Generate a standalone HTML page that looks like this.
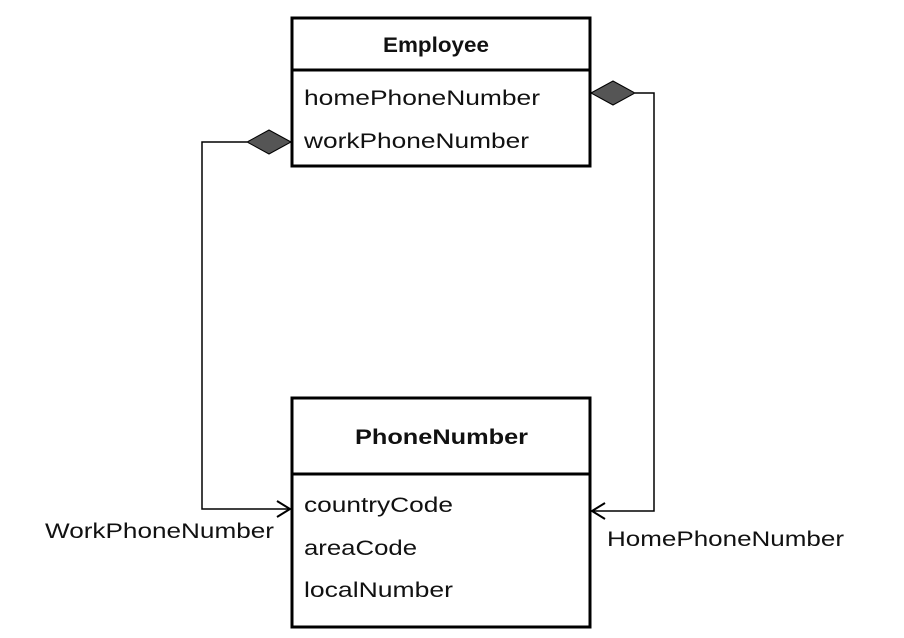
<!DOCTYPE html>
<html><head><style>
html,body{margin:0;padding:0;background:#fff;}
svg{display:block;}
text{font-family:"Liberation Sans",sans-serif;font-size:21px;fill:#111;}
.b{font-weight:bold;}
</style></head><body>
<svg width="904" height="638" viewBox="0 0 904 638">
<rect x="292" y="18" width="298" height="148" fill="#fff" stroke="#000" stroke-width="3"/>
<line x1="292" y1="70" x2="590" y2="70" stroke="#000" stroke-width="3"/>
<text x="383" y="52" class="b" textLength="106" lengthAdjust="spacingAndGlyphs">Employee</text>
<text x="304" y="105" textLength="236" lengthAdjust="spacingAndGlyphs">homePhoneNumber</text>
<text x="304" y="148" textLength="225" lengthAdjust="spacingAndGlyphs">workPhoneNumber</text>

<rect x="292" y="398" width="298" height="229" fill="#fff" stroke="#000" stroke-width="3"/>
<line x1="292" y1="474" x2="590" y2="474" stroke="#000" stroke-width="3"/>
<text x="355" y="444" class="b" textLength="173" lengthAdjust="spacingAndGlyphs">PhoneNumber</text>
<text x="304" y="512" textLength="149" lengthAdjust="spacingAndGlyphs">countryCode</text>
<text x="304" y="555" textLength="113" lengthAdjust="spacingAndGlyphs">areaCode</text>
<text x="304" y="597" textLength="149" lengthAdjust="spacingAndGlyphs">localNumber</text>

<polyline points="247,142 202,142 202,509 289,509" fill="none" stroke="#000" stroke-width="1.5"/>
<polygon points="291,142 269,130 247,142 269,154" fill="#555" stroke="#000" stroke-width="1"/>
<polyline points="277,501 290,509 277,517" fill="none" stroke="#000" stroke-width="2"/>

<polyline points="635,93 654,93 654,511 593,511" fill="none" stroke="#000" stroke-width="1.5"/>
<polygon points="591,93 613,81 635,93 613,105" fill="#555" stroke="#000" stroke-width="1"/>
<polyline points="605,503 592,511 605,519" fill="none" stroke="#000" stroke-width="2"/>

<text x="45" y="538" textLength="229" lengthAdjust="spacingAndGlyphs">WorkPhoneNumber</text>
<text x="607" y="546" textLength="237" lengthAdjust="spacingAndGlyphs">HomePhoneNumber</text>
</svg>
</body></html>
